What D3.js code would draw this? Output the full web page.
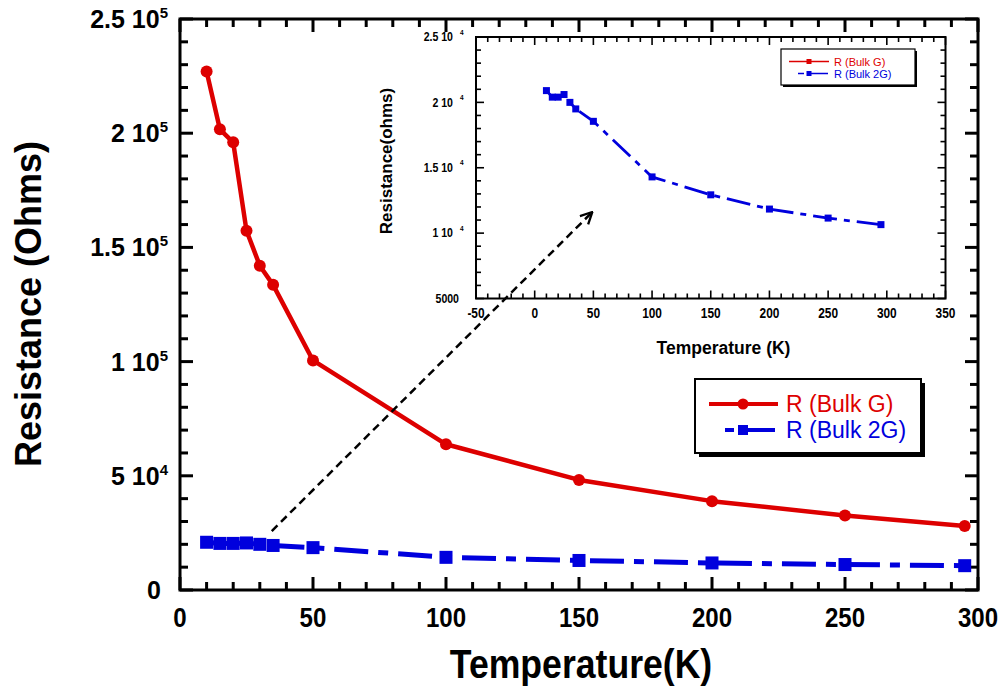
<!DOCTYPE html>
<html>
  <head>
    <meta charset="UTF-8" />
    <title>Resistance vs Temperature</title>
    <script src="https://d3js.org/d3.v7.min.js"></script>
    <style>
      * {
        margin: 0;
        padding: 0;
        box-sizing: border-box;
      }
      body {
        background-color: #ffffff;
      }
      svg {
        display: block;
      }
      text {
        font-family: Arial, "Liberation Sans", sans-serif;
        fill: #000000;
      }
    </style>
  </head>
  <body>
    <svg id="chart" width="1008" height="698"></svg>
  </body>
  <script>
    // data
    const temps = [10, 15, 20, 25, 30, 35, 50, 100, 150, 200, 250, 295];
    const rBulkG = [227000, 201700, 196000, 157300, 142000, 133600, 100500, 63800, 48200, 38900, 32600, 28000];
    const rBulk2G = [20900, 20400, 20400, 20600, 20000, 19500, 18550, 14300, 12930, 11840, 11150, 10650];
    const seriesNames = ["R (Bulk G)", "R (Bulk 2G)"];

    // tick labels
    const mainXTicks = [0, 50, 100, 150, 200, 250, 300];
    const mainYTicks = [0, 50000, 100000, 150000, 200000, 250000];
    const mainYLabels = [["0", ""], ["5 10", "4"], ["1 10", "5"], ["1.5 10", "5"], ["2 10", "5"], ["2.5 10", "5"]];
    const insetXTicks = [-50, 0, 50, 100, 150, 200, 250, 300, 350];
    const insetYTicks = [5000, 10000, 15000, 20000, 25000];
    const insetYLabels = [["5000", ""], ["1 10", "4"], ["1.5 10", "4"], ["2 10", "4"], ["2.5 10", "4"]];

    // arrow annotation, in main-plot data units
    const arrowFrom = [34.5, 25800];
    const arrowTo = [155, 165500];

    const RED = "#dd0000";
    const BLUE = "#0000dd";

    const svg = d3.select("#chart");
    const rows = temps.map((t, i) => ({ t: t, g: rBulkG[i], g2: rBulk2G[i] }));

    // main scales
    const x = d3.scaleLinear().domain([0, 300]).range([180, 978]);
    const y = d3.scaleLinear().domain([0, 250000]).range([590, 19]);

    // inset scales
    const xi = d3.scaleLinear().domain([-50, 350]).range([476, 945.5]);
    const yi = d3.scaleLinear().domain([5000, 25000]).range([298.5, 37]);

    // frame with inward ticks on all four sides
    function drawFrame(g, xs, ys, o) {
      const [x0, x1] = xs.range();
      const [y0, y1] = ys.range(); // y0 bottom, y1 top
      g.append("rect")
        .attr("x", x0).attr("y", y1)
        .attr("width", x1 - x0).attr("height", y0 - y1)
        .attr("fill", "none").attr("stroke", "#000").attr("stroke-width", o.frameW);

      const xd = xs.domain(), yd = ys.domain();
      const xMinor = d3.range(xd[0], xd[1] + 1e-6, o.xMinor);
      const yMinor = d3.range(yd[0], yd[1] + 1e-6, o.yMinor);
      const isMajor = (v, step) => Math.abs(v / step - Math.round(v / step)) < 1e-6;

      xMinor.forEach((v) => {
        const len = isMajor(v, o.xMajor) ? o.major : o.minor;
        const px = xs(v);
        g.append("line").attr("x1", px).attr("x2", px).attr("y1", y0).attr("y2", y0 - len)
          .attr("stroke", "#000").attr("stroke-width", o.tickW);
        g.append("line").attr("x1", px).attr("x2", px).attr("y1", y1).attr("y2", y1 + len)
          .attr("stroke", "#000").attr("stroke-width", o.tickW);
      });
      yMinor.forEach((v) => {
        const len = isMajor(v, o.yMajor) ? o.major : o.minor;
        const py = ys(v);
        g.append("line").attr("x1", x0).attr("x2", x0 + len).attr("y1", py).attr("y2", py)
          .attr("stroke", "#000").attr("stroke-width", o.tickW);
        g.append("line").attr("x1", x1).attr("x2", x1 - len).attr("y1", py).attr("y2", py)
          .attr("stroke", "#000").attr("stroke-width", o.tickW);
      });
    }

    // ---------- main plot ----------
    const main = svg.append("g");
    drawFrame(main, x, y, {
      frameW: 3, tickW: 3, major: 13, minor: 8,
      xMajor: 50, xMinor: 10, yMajor: 50000, yMinor: 10000
    });

    // x tick labels (condensed bold)
    mainXTicks.forEach((v) => {
      main.append("text")
        .attr("transform", `translate(${x(v)},627) scale(0.86,1)`)
        .attr("text-anchor", "middle")
        .attr("font-size", 28).attr("font-weight", "bold")
        .text(v);
    });

    // y tick labels with exponents
    mainYTicks.forEach((v, i) => {
      const lab = mainYLabels[i];
      const t = main.append("text")
        .attr("x", lab[1] ? 168 : 161).attr("y", y(v) + 9)
        .attr("text-anchor", "end")
        .attr("font-size", 25).attr("font-weight", "bold");
      t.append("tspan").text(lab[0]);
      if (lab[1]) {
        t.append("tspan").attr("dy", -10).attr("font-size", 15).text(lab[1]);
      }
    });

    main.append("text")
      .attr("transform", "translate(581,678) scale(0.89,1)")
      .attr("text-anchor", "middle")
      .attr("font-size", 40).attr("font-weight", "bold")
      .text("Temperature(K)");

    main.append("text")
      .attr("transform", "translate(41,304) rotate(-90)")
      .attr("text-anchor", "middle")
      .attr("font-size", 36).attr("font-weight", "bold")
      .text("Resistance (Ohms)");

    // series
    const lineG = d3.line().x((d) => x(d.t)).y((d) => y(d.g));
    const lineG2 = d3.line().x((d) => x(d.t)).y((d) => y(d.g2));

    main.append("path").datum(rows).attr("d", lineG2)
      .attr("fill", "none").attr("stroke", BLUE).attr("stroke-width", 5)
      .attr("stroke-dasharray", "34,10,10,10");
    main.selectAll(".sq").data(rows).join("rect")
      .attr("class", "sq")
      .attr("x", (d) => x(d.t) - 6.5).attr("y", (d) => y(d.g2) - 6.5)
      .attr("width", 13).attr("height", 13).attr("fill", BLUE);

    main.append("path").datum(rows).attr("d", lineG)
      .attr("fill", "none").attr("stroke", RED).attr("stroke-width", 4.5)
      .attr("stroke-linejoin", "round");
    main.selectAll(".dot").data(rows).join("circle")
      .attr("class", "dot")
      .attr("cx", (d) => x(d.t)).attr("cy", (d) => y(d.g))
      .attr("r", 6).attr("fill", RED);

    // main legend
    const leg = main.append("g");
    leg.append("rect").attr("x", 699).attr("y", 383).attr("width", 226).attr("height", 74).attr("fill", "#000");
    leg.append("rect").attr("x", 695).attr("y", 379).attr("width", 226).attr("height", 74)
      .attr("fill", "#fff").attr("stroke", "#000").attr("stroke-width", 2);
    leg.append("line").attr("x1", 709).attr("x2", 778).attr("y1", 404).attr("y2", 404)
      .attr("stroke", RED).attr("stroke-width", 4);
    leg.append("circle").attr("cx", 743).attr("cy", 404).attr("r", 5.5).attr("fill", RED);
    leg.append("text").attr("x", 786).attr("y", 412).attr("font-size", 23).style("fill", RED).text(seriesNames[0]);
    leg.append("line").attr("x1", 725).attr("x2", 775).attr("y1", 430).attr("y2", 430)
      .attr("stroke", BLUE).attr("stroke-width", 4).attr("stroke-dasharray", "9,6,60");
    leg.append("rect").attr("x", 738).attr("y", 425).attr("width", 10).attr("height", 10).attr("fill", BLUE);
    leg.append("text").attr("x", 786).attr("y", 438).attr("font-size", 23).style("fill", BLUE).text(seriesNames[1]);

    // ---------- inset ----------
    const inset = svg.append("g");
    drawFrame(inset, xi, yi, {
      frameW: 2, tickW: 1.6, major: 8, minor: 5,
      xMajor: 50, xMinor: 10, yMajor: 5000, yMinor: 1000
    });

    insetXTicks.forEach((v) => {
      inset.append("text")
        .attr("transform", `translate(${xi(v)},317.5) scale(0.85,1)`)
        .attr("text-anchor", "middle")
        .attr("font-size", 14).attr("font-weight", "bold")
        .text(v);
    });

    insetYTicks.forEach((v, i) => {
      const lab = insetYLabels[i];
      inset.append("text")
        .attr("transform", `translate(${lab[1] ? 453 : 459},${yi(v) + 4.3}) scale(0.88,1)`)
        .attr("text-anchor", "end")
        .attr("font-size", 12).attr("font-weight", "bold")
        .text(lab[0]);
      if (lab[1]) {
        inset.append("text")
          .attr("x", 460).attr("y", yi(v) - 2.5)
          .attr("font-size", 6.5).attr("font-weight", "bold")
          .text(lab[1]);
      }
    });

    inset.append("text")
      .attr("x", 723.5).attr("y", 354)
      .attr("text-anchor", "middle")
      .attr("font-size", 17.5).attr("font-weight", "bold")
      .text("Temperature (K)");

    inset.append("text")
      .attr("transform", "translate(392,161) rotate(-90)")
      .attr("text-anchor", "middle")
      .attr("font-size", 17).attr("font-weight", "bold")
      .text("Resistance(ohms)");

    const lineI = d3.line().x((d) => xi(d.t)).y((d) => yi(d.g2));
    inset.append("path").datum(rows).attr("d", lineI)
      .attr("fill", "none").attr("stroke", BLUE).attr("stroke-width", 2.8)
      .attr("stroke-dasharray", "24,7,6,7");
    inset.selectAll(".isq").data(rows).join("rect")
      .attr("class", "isq")
      .attr("x", (d) => xi(d.t) - 3.5).attr("y", (d) => yi(d.g2) - 3.5)
      .attr("width", 7).attr("height", 7).attr("fill", BLUE);

    // inset legend
    const ileg = inset.append("g");
    ileg.append("rect").attr("x", 783).attr("y", 51).attr("width", 134).attr("height", 36).attr("fill", "#000");
    ileg.append("rect").attr("x", 781).attr("y", 49).attr("width", 134).attr("height", 36)
      .attr("fill", "#fff").attr("stroke", "#000").attr("stroke-width", 1.2);
    ileg.append("line").attr("x1", 789).attr("x2", 829).attr("y1", 61.5).attr("y2", 61.5)
      .attr("stroke", RED).attr("stroke-width", 1.5);
    ileg.append("rect").attr("x", 806.5).attr("y", 59).attr("width", 5).attr("height", 5).attr("fill", RED);
    ileg.append("text").attr("x", 834).attr("y", 65.5).attr("font-size", 11).style("fill", RED).text(seriesNames[0]);
    ileg.append("line").attr("x1", 798).attr("x2", 828).attr("y1", 73.5).attr("y2", 73.5)
      .attr("stroke", BLUE).attr("stroke-width", 1.5).attr("stroke-dasharray", "6,3,30");
    ileg.append("rect").attr("x", 806.5).attr("y", 71).attr("width", 5).attr("height", 5).attr("fill", BLUE);
    ileg.append("text").attr("x", 834).attr("y", 77.5).attr("font-size", 11).style("fill", BLUE).text(seriesNames[1]);

    // ---------- dashed arrow ----------
    svg.append("defs").append("marker")
      .attr("id", "head")
      .attr("viewBox", "0 0 12 12")
      .attr("refX", 11).attr("refY", 6)
      .attr("markerWidth", 14).attr("markerHeight", 14)
      .attr("markerUnits", "userSpaceOnUse")
      .attr("orient", "auto")
      .append("path")
      .attr("d", "M1,1 L11,6 L1,11")
      .attr("fill", "none").attr("stroke", "#000").attr("stroke-width", 2)
      .attr("stroke-dasharray", "none");

    svg.append("line")
      .attr("x1", x(arrowFrom[0])).attr("y1", y(arrowFrom[1]))
      .attr("x2", x(arrowTo[0])).attr("y2", y(arrowTo[1]))
      .attr("stroke", "#000").attr("stroke-width", 2.5)
      .attr("stroke-dasharray", "8,5")
      .attr("marker-end", "url(#head)");
  </script>
</html>
